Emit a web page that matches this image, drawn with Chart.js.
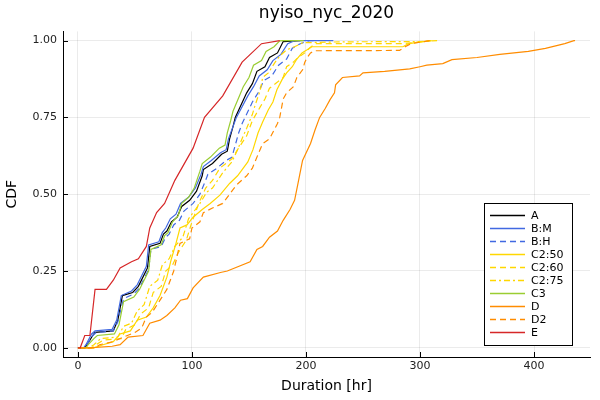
<!DOCTYPE html>
<html>
<head>
<meta charset="utf-8">
<script src="https://cdn.jsdelivr.net/npm/chart.js@4"></script>
<style>
  html, body { margin: 0; padding: 0; background: #fff; }
  #wrap { width: 600px; height: 400px; }
</style>
</head>
<body>
<div id="wrap"><canvas id="chart" width="600" height="400"></canvas></div>
<script>
const FONT = 'DejaVu Sans'

const labels = ['A', 'B:M', 'B:H', 'C2:50', 'C2:60', 'C2:75', 'C3', 'D', 'D2', 'E']
const xTicks = [0, 100, 200, 300, 400]
const yTicks = [0, 0.25, 0.5, 0.75, 1]

// duration [hr] / cdf pairs
const aHr  = [0, 6, 8, 13, 15, 31, 35, 39, 48, 53, 57, 61, 63, 72, 75, 78, 82, 87, 91, 98, 104, 109, 110, 118, 126, 131, 133, 136, 138, 148, 153, 157, 164, 168, 175, 180, 195]
const aCdf = [0, 0, 0.01, 0.04, 0.05, 0.055, 0.09, 0.17, 0.18, 0.2, 0.23, 0.26, 0.33, 0.34, 0.37, 0.38, 0.41, 0.425, 0.46, 0.48, 0.51, 0.56, 0.58, 0.6, 0.63, 0.64, 0.68, 0.72, 0.75, 0.83, 0.86, 0.9, 0.915, 0.945, 0.96, 0.997, 1]

const bmHr  = [0, 5, 7, 12, 15, 30, 34, 38, 47, 52, 56, 60, 62, 71, 74, 77, 81, 86, 90, 97, 103, 108, 110, 117, 125, 130, 132, 136, 139, 149, 154, 159, 166, 171, 178, 184, 190, 224]
const bmCdf = [0, 0, 0.01, 0.045, 0.055, 0.06, 0.09, 0.17, 0.185, 0.205, 0.235, 0.265, 0.335, 0.345, 0.375, 0.39, 0.42, 0.435, 0.47, 0.49, 0.52, 0.565, 0.59, 0.61, 0.635, 0.645, 0.68, 0.72, 0.75, 0.82, 0.85, 0.885, 0.905, 0.935, 0.955, 0.99, 1, 1]

const bhHr  = [0, 6, 8, 13, 16, 31, 35, 40, 49, 54, 58, 62, 64, 73, 77, 80, 84, 89, 93, 101, 107, 112, 114, 122, 130, 135, 138, 141, 144, 153, 158, 163, 170, 176, 183, 188, 195, 203, 208]
const bhCdf = [0, 0, 0.01, 0.04, 0.05, 0.055, 0.085, 0.16, 0.175, 0.195, 0.225, 0.255, 0.32, 0.33, 0.36, 0.37, 0.4, 0.415, 0.445, 0.47, 0.5, 0.545, 0.565, 0.585, 0.61, 0.62, 0.66, 0.7, 0.73, 0.8, 0.83, 0.87, 0.885, 0.92, 0.94, 0.975, 0.99, 1, 1]

const c50Hr  = [0, 14, 22, 31, 37, 46, 52, 60, 66, 72, 78, 82, 86, 89.5, 95.6, 101, 109, 116, 124.5, 133, 140, 149, 153.5, 158, 162, 167, 171, 174.5, 179, 183, 188, 192, 196.5, 201, 205, 285, 290, 310]
const c50Cdf = [0, 0, 0.01, 0.02, 0.045, 0.055, 0.09, 0.1, 0.13, 0.17, 0.23, 0.29, 0.34, 0.39, 0.4, 0.425, 0.45, 0.47, 0.497, 0.535, 0.56, 0.605, 0.645, 0.7, 0.735, 0.775, 0.8, 0.84, 0.873, 0.895, 0.915, 0.94, 0.96, 0.97, 0.98, 0.98, 0.99, 1]

const c60Hr  = [0, 12, 16, 22, 38, 42, 50, 55, 62, 66, 73, 77, 83, 88, 95, 100, 106, 112, 118, 124.5, 135, 140, 148, 153, 160, 164, 168, 175, 180, 183, 189, 193, 199, 203, 208, 285, 310]
const c60Cdf = [0, 0, 0.01, 0.025, 0.03, 0.06, 0.075, 0.11, 0.13, 0.18, 0.2, 0.25, 0.27, 0.31, 0.35, 0.41, 0.47, 0.52, 0.545, 0.585, 0.615, 0.645, 0.69, 0.74, 0.785, 0.81, 0.845, 0.865, 0.88, 0.915, 0.93, 0.945, 0.96, 0.975, 0.99, 0.99, 1]

const c75Hr  = [0, 10, 14, 20, 35, 40, 47, 52, 58, 63, 70, 74, 80, 85, 92, 97, 107, 113, 118, 127, 135, 140, 145, 148, 153, 155, 160, 162, 167, 173, 177, 183, 190, 197, 230, 300, 315]
const c75Cdf = [0, 0, 0.01, 0.03, 0.035, 0.07, 0.08, 0.12, 0.14, 0.2, 0.22, 0.27, 0.29, 0.33, 0.36, 0.42, 0.47, 0.507, 0.52, 0.57, 0.605, 0.645, 0.69, 0.715, 0.76, 0.785, 0.84, 0.88, 0.895, 0.93, 0.95, 0.97, 0.98, 0.993, 0.996, 0.997, 1]

const c3Hr  = [0, 7, 9, 14, 17, 32, 36, 40, 49, 54, 58, 62, 64, 73, 76, 79, 83, 88, 91, 97, 102, 107, 109, 116, 124, 129, 131, 134, 136, 145, 150, 154, 161, 165, 172, 177, 180, 198]
const c3Cdf = [0, 0, 0.01, 0.03, 0.04, 0.045, 0.075, 0.15, 0.165, 0.19, 0.22, 0.25, 0.32, 0.335, 0.365, 0.375, 0.41, 0.43, 0.47, 0.49, 0.52, 0.575, 0.6, 0.62, 0.65, 0.66, 0.7, 0.74, 0.77, 0.85, 0.88, 0.92, 0.935, 0.965, 0.98, 0.999, 1, 1]

const dHr  = [0, 10, 30, 37, 44, 57, 63, 72, 78, 85, 90, 96, 101, 110, 125, 131, 151, 157, 162, 168, 175, 180, 186, 190, 193, 197, 204, 208, 212, 217, 221, 225, 226, 232, 247, 250, 269, 291, 300, 306, 320, 328, 350, 370, 395, 410, 427, 435, 436]
const dCdf = [0, 0, 0.005, 0.01, 0.035, 0.04, 0.08, 0.09, 0.105, 0.13, 0.155, 0.16, 0.195, 0.23, 0.245, 0.25, 0.28, 0.32, 0.33, 0.36, 0.38, 0.415, 0.45, 0.48, 0.535, 0.61, 0.665, 0.71, 0.75, 0.78, 0.807, 0.83, 0.856, 0.88, 0.885, 0.895, 0.9, 0.908, 0.915, 0.92, 0.925, 0.938, 0.945, 0.955, 0.965, 0.975, 0.99, 1, 1]

const d2Hr  = [0, 15, 19, 31, 40, 50, 56, 60, 65, 72, 78, 84, 89.5, 98, 100, 107, 110, 118, 127, 139, 148, 153, 158, 162, 168, 175, 177, 180, 183, 189, 192, 197, 199, 201, 204, 208, 282, 287, 292, 309]
const d2Cdf = [0, 0, 0.01, 0.02, 0.035, 0.05, 0.065, 0.1, 0.115, 0.155, 0.19, 0.25, 0.34, 0.355, 0.39, 0.41, 0.44, 0.455, 0.47, 0.53, 0.56, 0.585, 0.63, 0.665, 0.68, 0.73, 0.75, 0.81, 0.83, 0.85, 0.88, 0.905, 0.93, 0.945, 0.96, 0.967, 0.968, 0.98, 0.99, 1]

const eHr  = [0, 2, 6, 10.5, 15, 25, 31, 37, 47, 53, 60, 63, 69, 76, 82, 85, 101, 111, 127, 144, 161, 177]
const eCdf = [0, 0, 0.04, 0.04, 0.19, 0.19, 0.22, 0.26, 0.28, 0.29, 0.33, 0.39, 0.44, 0.47, 0.52, 0.545, 0.65, 0.75, 0.82, 0.93, 0.99, 1]

const seriesHr  = [aHr, bmHr, bhHr, c50Hr, c60Hr, c75Hr, c3Hr, dHr, d2Hr, eHr]
const seriesCdf = [aCdf, bmCdf, bhCdf, c50Cdf, c60Cdf, c75Cdf, c3Cdf, dCdf, d2Cdf, eCdf]

const COLORS = ['#000000', '#4169e1', '#4169e1', '#ffd700', '#ffd700', '#ffd700', '#9acd32', '#ff8c00', '#ff8c00', '#d62728']
const DASHES = [[], [], [6, 4], [], [6, 4], [6, 3, 2, 3], [], [], [6, 4], []]

const datasets = labels.map((name, i) => ({
    label: name,
    data: seriesHr[i].map((h, k) => ({x: h, y: seriesCdf[i][k]})),
    borderColor: COLORS[i],
    borderDash: DASHES[i],
    borderWidth: 1.2,
    pointRadius: 0,
    fill: false,
    tension: 0,
    order: labels.length - i   // later series on top, like the original
}))

// small tick marks drawn inwards from the axes
const innerTicks = {
    id: 'innerTicks',
    afterDraw(chart) {
        const {ctx, chartArea, scales} = chart
        ctx.save()
        ctx.strokeStyle = '#000'
        ctx.lineWidth = 1
        ctx.beginPath()
        xTicks.forEach(v => {
            const px = Math.round(scales.x.getPixelForValue(v)) + 0.5
            ctx.moveTo(px, chartArea.bottom)
            ctx.lineTo(px, chartArea.bottom - 5)
        })
        yTicks.forEach(v => {
            const py = Math.round(scales.y.getPixelForValue(v)) + 0.5
            ctx.moveTo(chartArea.left, py)
            ctx.lineTo(chartArea.left + 5, py)
        })
        ctx.stroke()
        ctx.restore()
    }
}

// legend box in the lower right corner of the plot
const boxLegend = {
    id: 'boxLegend',
    afterDraw(chart) {
        const ctx = chart.ctx
        const x0 = 484, y0 = 203, w = 88, h = 142
        ctx.save()
        ctx.fillStyle = '#fff'
        ctx.fillRect(x0, y0, w, h)
        ctx.strokeStyle = '#000'
        ctx.lineWidth = 1
        ctx.strokeRect(x0 + 0.5, y0 + 0.5, w, h)
        ctx.font = '11px ' + FONT
        ctx.textBaseline = 'middle'
        labels.forEach((name, i) => {
            const y = y0 + 12.5 + i * 13
            ctx.strokeStyle = COLORS[i]
            ctx.lineWidth = 1.3
            ctx.setLineDash(DASHES[i])
            ctx.beginPath()
            ctx.moveTo(x0 + 6, y)
            ctx.lineTo(x0 + 41, y)
            ctx.stroke()
            ctx.setLineDash([])
            ctx.fillStyle = '#000'
            ctx.fillText(name, x0 + 47, y + 0.5)
        })
        ctx.restore()
    }
}

new Chart(document.getElementById('chart'), {
    type: 'line',
    data: {datasets: datasets},
    plugins: [innerTicks, boxLegend],
    options: {
        responsive: false,
        animation: false,
        layout: {padding: {left: 0, right: 10, top: 0, bottom: 0}},
        plugins: {
            legend: {display: false},
            tooltip: {enabled: false},
            title: {
                display: true,
                text: 'nyiso_nyc_2020',
                fullSize: false,
                color: '#000',
                font: {family: FONT, size: 17, weight: 'normal'},
                padding: {top: 3, bottom: 8}
            }
        },
        scales: {
            x: {
                type: 'linear',
                min: -13.1,
                max: 449.1,
                afterBuildTicks: s => { s.ticks = xTicks.map(v => ({value: v})) },
                afterFit: s => { s.height = 43 },
                ticks: {
                    color: '#222',
                    font: {family: FONT, size: 11},
                    padding: 3,
                    maxRotation: 0
                },
                grid: {color: 'rgba(0,0,0,0.08)', lineWidth: 1, drawTicks: false},
                border: {color: '#000', width: 1},
                title: {
                    display: true,
                    text: 'Duration [hr]',
                    color: '#000',
                    font: {family: FONT, size: 14},
                    padding: {top: 0, bottom: 5}
                }
            },
            y: {
                type: 'linear',
                min: -0.03,
                max: 1.03,
                afterBuildTicks: s => { s.ticks = yTicks.map(v => ({value: v})) },
                afterFit: s => { s.width = 63 },
                ticks: {
                    color: '#222',
                    font: {family: FONT, size: 11},
                    padding: 6,
                    callback: v => v.toFixed(2)
                },
                grid: {color: 'rgba(0,0,0,0.08)', lineWidth: 1, drawTicks: false},
                border: {color: '#000', width: 1},
                title: {
                    display: true,
                    text: 'CDF',
                    color: '#000',
                    font: {family: FONT, size: 14},
                    padding: {top: 4, bottom: 0}
                }
            }
        }
    }
})
</script>
</body>
</html>
